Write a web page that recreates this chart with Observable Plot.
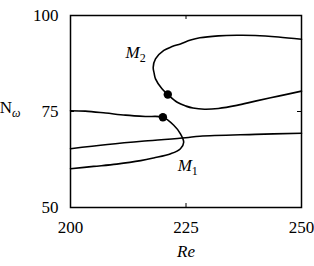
<!DOCTYPE html>
<html><head><meta charset="utf-8">
<script src="https://cdn.jsdelivr.net/npm/d3@7"></script>
<script src="https://cdn.jsdelivr.net/npm/@observablehq/plot@0.6"></script>
<style>
body{margin:0;background:#fff}
svg{font-family:"Liberation Serif",serif}
</style>
</head><body><div id="chart"></div>
<script>
// Branch M1 (folded curve, traced in order)
const m1Re = [200, 203.2, 207.6, 211.9, 216.2, 220.0, 222.4, 223.8, 224.5, 223.8, 221.7, 218.0, 215.2, 210, 205, 200];
const m1N  = [75.2, 75.1, 74.6, 74.05, 73.7, 73.5, 71.35, 69.2, 67.0, 65.3, 64.0, 62.9, 62.2, 61.3, 60.7, 60.1];
// Branch M2 (folded curve, traced in order)
const m2Re = [250, 245, 240, 236, 232, 228, 226, 223.8, 222, 220.2, 218.4, 217.9, 218.1, 218.4, 219.8, 221.06, 223.1, 225, 226.5, 229, 232, 236, 240, 245, 250];
const m2N  = [93.8, 94.4, 94.8, 94.85, 94.7, 94.2, 93.6, 92.6, 91.9, 90.9, 88.7, 86.5, 85.0, 83.5, 80.9, 79.43, 77.4, 76.4, 75.9, 75.6, 75.8, 76.6, 77.7, 79.0, 80.3];
// Third (monotone) branch
const lineRe = [200, 208, 216, 224.9, 228, 240, 250];
const lineN  = [65.3, 66.4, 67.3, 68.15, 68.57, 69.05, 69.35];
// Marked points
const dotRe = [220.0, 221.06];
const dotN  = [73.52, 79.43];
// Ticks
const xTicks = [200, 225, 250];
const yTicks = [50, 75, 100];
const xInner = [225];
const yInner = [75];
// Labels
const labelText = ["M_2", "M_1"];
const labelRe = [211.9, 223.2];
const labelN = [90.3, 60.8];

const rows = (xs, ys) => xs.map((x, i) => ({x, y: ys[i]}));
const labels = labelText.map((t, i) => ({t, x: labelRe[i], y: labelN[i]}));

const W = 314, H = 266, mL = 70, mR = 13, mT = 15, mB = 59;
const fw = W - mL - mR, fh = H - mT - mB, tk = 4;
const lw = 1.6, fs = 17;
const plot = Plot.plot({
  width: W, height: H,
  marginLeft: mL, marginRight: mR, marginTop: mT, marginBottom: mB,
  style: {fontFamily: "Liberation Serif", fontSize: fs + "px", background: "white", color: "black", overflow: "visible"},
  x: {domain: [200, 250]},
  y: {domain: [50, 100]},
  marks: [
    Plot.axisX(xTicks, {anchor: "bottom", tickSize: 0, tickPadding: 13, label: null, fontSize: fs}),
    Plot.axisY(yTicks, {anchor: "left", tickSize: 0, tickPadding: 12, label: null, fontSize: fs}),
    // inward ticks
    Plot.ruleX(xInner, {stroke: "black", strokeWidth: 1, insetTop: fh - tk}),
    Plot.ruleX(xInner, {stroke: "black", strokeWidth: 1, insetBottom: fh - tk}),
    Plot.ruleY(yInner, {stroke: "black", strokeWidth: 1, insetRight: fw - tk}),
    Plot.ruleY(yInner, {stroke: "black", strokeWidth: 1, insetLeft: fw - tk}),
    Plot.line(rows(lineRe, lineN), {x: "x", y: "y", curve: "catmull-rom", stroke: "black", strokeWidth: lw}),
    Plot.line(rows(m1Re, m1N), {x: "x", y: "y", curve: "catmull-rom", stroke: "black", strokeWidth: lw}),
    Plot.line(rows(m2Re, m2N), {x: "x", y: "y", curve: "catmull-rom", stroke: "black", strokeWidth: lw}),
    Plot.dot(rows(dotRe, dotN), {x: "x", y: "y", r: 4.2, fill: "black", stroke: null}),
    Plot.frame({stroke: "black", strokeWidth: 1.5}),
    Plot.text(labels, {x: "x", y: "y", text: "t", textAnchor: "start", fontStyle: "italic", fontSize: fs}),
    Plot.text(["N_ω"], {x: () => 200, y: () => 76, dx: -50, textAnchor: "end", fontSize: fs}),
    Plot.text(["Re"], {x: () => 225, y: () => 50, dy: 44, textAnchor: "middle", fontStyle: "italic", fontSize: fs})
  ]
});
document.getElementById("chart").appendChild(plot);

// Render "A_b" labels with a real subscript
d3.select(plot).selectAll("text").each(function() {
  const t = this.textContent;
  if (!t.includes("_") || this.children.length) return;
  const [base, sub] = t.split("_");
  const el = d3.select(this);
  el.text(null);
  el.append("tspan").text(base);
  el.append("tspan").attr("dy", "0.3em").attr("font-size", "12px").attr("font-style", sub === "ω" ? "italic" : "normal").text(sub);
});
</script>
</body></html>
